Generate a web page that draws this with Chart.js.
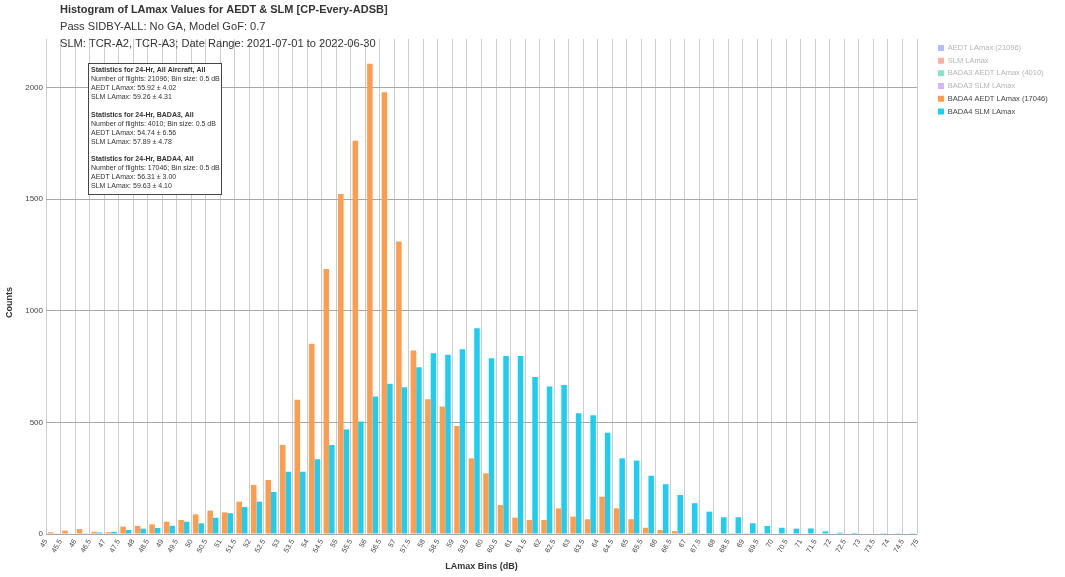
<!DOCTYPE html>
<html>
<head>
<meta charset="utf-8">
<script src="https://cdn.jsdelivr.net/npm/chart.js@4.4.1/dist/chart.umd.min.js"></script>
<style>
html,body{margin:0;padding:0;background:#fff;}
#wrap{width:1065px;height:577px;position:relative;}
</style>
</head>
<body>
<div id="wrap"><canvas id="c" width="1065" height="577"></canvas></div>
<script>
// ---------------- DATA ----------------
const titleText = 'Histogram of LAmax Values for AEDT & SLM [CP-Every-ADSB]';
const subtitleLines = [
  'Pass SIDBY-ALL: No GA, Model GoF: 0.7',
  'SLM: TCR-A2, TCR-A3; Date Range: 2021-07-01 to 2022-06-30'
];
const xAxisTitle = 'LAmax Bins (dB)';
const yAxisTitle = 'Counts';

// bin centres (bins are 0.5 dB wide, from 45 to 75 dB)
const binCenters = [
  45.25, 45.75, 46.25, 46.75, 47.25, 47.75, 48.25, 48.75, 49.25, 49.75,
  50.25, 50.75, 51.25, 51.75, 52.25, 52.75, 53.25, 53.75, 54.25, 54.75,
  55.25, 55.75, 56.25, 56.75, 57.25, 57.75, 58.25, 58.75, 59.25, 59.75,
  60.25, 60.75, 61.25, 61.75, 62.25, 62.75, 63.25, 63.75, 64.25, 64.75,
  65.25, 65.75, 66.25, 66.75, 67.25, 67.75, 68.25, 68.75, 69.25, 69.75,
  70.25, 70.75, 71.25, 71.75, 72.25, 72.75, 73.25, 73.75, 74.25, 74.75
];
// x tick labels (bin edges)
const xTickLabels = [
  '45','45.5','46','46.5','47','47.5','48','48.5','49','49.5',
  '50','50.5','51','51.5','52','52.5','53','53.5','54','54.5',
  '55','55.5','56','56.5','57','57.5','58','58.5','59','59.5',
  '60','60.5','61','61.5','62','62.5','63','63.5','64','64.5',
  '65','65.5','66','66.5','67','67.5','68','68.5','69','69.5',
  '70','70.5','71','71.5','72','72.5','73','73.5','74','74.5','75'
];
const yTickValues = [0, 500, 1000, 1500, 2000];

const seriesNames = [
  'AEDT LAmax (21096)',
  'SLM LAmax',
  'BADA3 AEDT LAmax (4010)',
  'BADA3 SLM LAmax',
  'BADA4 AEDT LAmax (17046)',
  'BADA4 SLM LAmax'
];

const bada4AedtCounts = [
  8, 15, 22, 10, 8, 33, 36, 43, 55, 63,
  88, 105, 97, 145, 220, 242, 399, 601, 852, 1187,
  1523, 1762, 2107, 1979, 1311, 822, 604, 571, 484, 339,
  272, 130, 73, 63, 63, 115, 78, 66, 167, 115,
  66, 28, 18, 13, 5, 3, 2, 1, 1, 1,
  0, 0, 0, 0, 0, 0, 0, 0, 0, 0
];
const bada4SlmCounts = [
  3, 2, 3, 7, 10, 18, 24, 27, 37, 55,
  48, 73, 93, 121, 145, 188, 279, 279, 335, 399,
  469, 504, 616, 673, 658, 747, 810, 803, 828, 922,
  788, 798, 798, 703, 661, 668, 541, 532, 454, 339,
  329, 261, 223, 175, 138, 100, 75, 75, 48, 36,
  28, 24, 25, 12, 6, 5, 2, 1, 1, 1
];

const statsLines = [
  'Statistics for 24-Hr, All Aircraft, All',
  'Number of flights: 21096; Bin size: 0.5 dB',
  'AEDT LAmax: 55.92 ± 4.02',
  'SLM LAmax: 59.26 ± 4.31',
  '',
  'Statistics for 24-Hr, BADA3, All',
  'Number of flights: 4010; Bin size: 0.5 dB',
  'AEDT LAmax: 54.74 ± 6.56',
  'SLM LAmax: 57.89 ± 4.78',
  '',
  'Statistics for 24-Hr, BADA4, All',
  'Number of flights: 17046; Bin size: 0.5 dB',
  'AEDT LAmax: 56.31 ± 3.00',
  'SLM LAmax: 59.63 ± 4.10'
];

// ---------------- STYLE / LAYOUT ----------------
const FONT = '"Liberation Sans", Arial, Helvetica, sans-serif';
Chart.defaults.font.family = FONT;
Chart.defaults.color = '#444';

const W = 1065, H = 577;
const PLOT_LEFT = 46, PLOT_RIGHT = 917, PLOT_BOTTOM = 534;
const LEG_W = 100, LEG_PAD = 5.2, LEG_FONT = 7.5, LEG_BOX = 6, LEG_X = 938, LEG_DRAW_W = 126;
const Y_TITLE_SHIFT = 16;

const placer = {
  id: 'placer',
  afterLayout(chart) {
    const t = chart.titleBlock;
    if (t) {
      const h = t.bottom - t.top;
      t.left = 60; t.right = 700; t.width = 640; t.top = 3.5; t.bottom = 3.5 + h;
      chart.boxes.forEach(b => {
        if (b !== t && b.constructor === t.constructor) {
          const hh = b.bottom - b.top;
          b.left = 60; b.right = 700; b.width = 640; b.top = 18.5; b.bottom = 18.5 + hh;
        }
      });
    }
    const lg = chart.legend;
    if (lg) {
      lg.left = LEG_X - LEG_PAD;
      lg.right = lg.left + LEG_DRAW_W;
      lg.width = LEG_DRAW_W;
      lg.maxWidth = LEG_DRAW_W;
    }
    // nudge only the y-axis title slightly lower (tick pixels are already configured)
    const ys = chart.scales.y;
    if (ys) { ys.top += Y_TITLE_SHIFT; ys.bottom += Y_TITLE_SHIFT; }
  }
};

const statsBox = {
  id: 'statsBox',
  afterDraw(chart) {
    const ctx = chart.ctx;
    const a = chart.chartArea;
    const x0 = Math.round(a.left + 42) + 0.5, y0 = Math.round(a.top + 24) + 0.5;
    const w = 133, h = 131;
    ctx.save();
    ctx.fillStyle = '#ffffff';
    ctx.fillRect(x0, y0, w, h);
    ctx.strokeStyle = '#444';
    ctx.lineWidth = 1;
    ctx.strokeRect(x0, y0, w, h);
    ctx.textBaseline = 'middle';
    ctx.textAlign = 'left';
    ctx.fillStyle = '#333';
    statsLines.forEach((s, i) => {
      if (!s) return;
      ctx.font = (s.startsWith('Statistics') ? 'bold ' : '') + '7px ' + FONT;
      ctx.fillText(s, x0 + 2.5, y0 + 6.5 + i * 8.95);
    });
    ctx.restore();
  }
};

const datasets = [
  {label: seriesNames[0], data: [], hidden: true, backgroundColor: '#636EFA', fadedColor: '#B6BCFC'},
  {label: seriesNames[1], data: [], hidden: true, backgroundColor: '#EF553B', fadedColor: '#F7B0A3'},
  {label: seriesNames[2], data: [], hidden: true, backgroundColor: '#00CC96', fadedColor: '#86E4CB'},
  {label: seriesNames[3], data: [], hidden: true, backgroundColor: '#AB63FA', fadedColor: '#D6B5FC'},
  {label: seriesNames[4], data: bada4AedtCounts, backgroundColor: '#FF9C4E'},
  {label: seriesNames[5], data: bada4SlmCounts, backgroundColor: '#1CCEF2'}
];

new Chart(document.getElementById('c'), {
  type: 'bar',
  data: { labels: binCenters, datasets },
  options: {
    responsive: false,
    animation: false,
    devicePixelRatio: 1,
    layout: { padding: { top: -8, right: W - PLOT_RIGHT - LEG_W, bottom: 0, left: 0 } },
    datasets: { bar: { categoryPercentage: 0.76, barPercentage: 1.0, borderWidth: 0 } },
    plugins: {
      tooltip: { enabled: false },
      title: {
        display: true, text: titleText, align: 'start', color: '#333', padding: 0,
        font: { size: 11, weight: 'bold', lineHeight: '13px' }
      },
      subtitle: {
        display: true, text: subtitleLines, align: 'start', color: '#333', padding: 0,
        font: { size: 11.1, lineHeight: '17px' }
      },
      legend: {
        display: true, position: 'right', align: 'start', fullSize: false,
        maxWidth: LEG_W, onClick: null,
        labels: {
          boxWidth: LEG_BOX, boxHeight: LEG_BOX, padding: LEG_PAD,
          font: { size: LEG_FONT },
          generateLabels: (chart) => chart.data.datasets.map((ds, i) => ({
            text: ds.label,
            datasetIndex: i,
            fillStyle: ds.hidden ? ds.fadedColor : ds.backgroundColor,
            strokeStyle: 'rgba(0,0,0,0)',
            lineWidth: 0,
            hidden: false,
            fontColor: ds.hidden ? '#b5b5b5' : '#444'
          }))
        }
      }
    },
    scales: {
      x: {
        type: 'linear',
        min: 45, max: 75,
        offset: false,
        grid: { offset: false, color: '#cdcdcd', lineWidth: 1, drawTicks: false },
        border: { display: false },
        afterFit(s) { s.height = H - PLOT_BOTTOM; },
        ticks: {
          stepSize: 0.5, autoSkip: false, minRotation: 60, maxRotation: 60,
          padding: 4, color: '#444', font: { size: 7.2 },
          callback: (v, i) => xTickLabels[i]
        },
        title: {
          display: true, text: xAxisTitle, color: '#333',
          font: { size: 9, weight: 'bold', lineHeight: 1.2 },
          padding: { top: 0, bottom: 4.6 }
        }
      },
      y: {
        min: 0, max: 2218,
        grid: { color: '#a8a8a8', lineWidth: 1, drawTicks: false },
        border: { display: false },
        afterFit(s) { s.width = PLOT_LEFT; },
        afterBuildTicks(s) { s.ticks = yTickValues.map(v => ({ value: v })); },
        ticks: { padding: 3, color: '#444', font: { size: 8 }, callback: (v) => String(v) },
        title: {
          display: true, text: yAxisTitle, color: '#333',
          font: { size: 9, weight: 'bold', lineHeight: 1.2 },
          padding: { top: 4.6, bottom: 0 }
        }
      }
    }
  },
  plugins: [placer, statsBox]
});
</script>
</body>
</html>
